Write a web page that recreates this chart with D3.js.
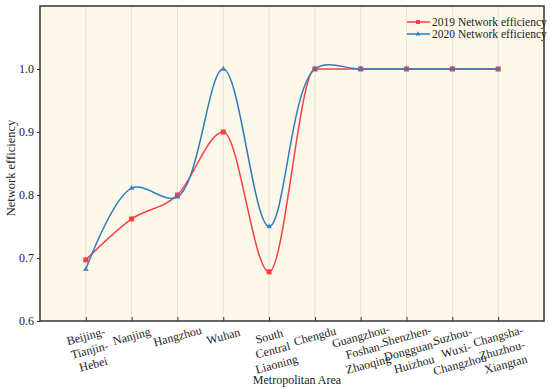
<!DOCTYPE html>
<html><head><meta charset="utf-8">
<script src="https://cdn.jsdelivr.net/npm/d3@7"></script>
<style>body{margin:0;background:#fff}svg{display:block}text{font-family:"Liberation Serif","Times New Roman",serif;fill:#222}</style>
</head><body><svg id="c" width="550" height="389"></svg>
<script>
const categories = [["Beijing-","Tianjin-","Hebei"],["Nanjing"],["Hangzhou"],["Wuhan"],["South","Central","Liaoning"],["Chengdu"],["Guangzhou-","Foshan-","Zhaoqing"],["Shenzhen-","Dongguan-","Huizhou"],["Suzhou-","Wuxi-","Changzhou"],["Changsha-","Zhuzhou-","Xiangtan"]];
const eff2019 = [0.697,0.762,0.800,0.900,0.678,1.0,1.0,1.0,1.0,1.0];
const eff2020 = [0.682,0.811,0.797,1.0,0.750,1.0,1.0,1.0,1.0,1.0];
const yTicks = [0.6,0.7,0.8,0.9,1.0];
const seriesNames = ["2019 Network efficiency","2020 Network efficiency"];

const svg = d3.select("#c");
const L=40,T=6,R=544,B=321;
const x = d3.scaleLinear().domain([0,categories.length+1]).range([L,R]);
const y = d3.scaleLinear().domain([0.6,1.1]).range([B,T]);
svg.append("rect").attr("x",L).attr("y",T).attr("width",R-L).attr("height",B-T).attr("fill","#fdf8ea");
// grid
svg.append("g").selectAll("line").data(categories).join("line")
  .attr("x1",(d,i)=>x(i+1)).attr("x2",(d,i)=>x(i+1)).attr("y1",T).attr("y2",B)
  .attr("stroke","#e2e0da").attr("stroke-width",1);
// axes
const xa = svg.append("g").attr("transform",`translate(0,${B})`)
  .call(d3.axisBottom(x).tickValues(d3.range(1,categories.length+1)).tickSize(-4).tickFormat(""));
xa.select(".domain").remove();
xa.selectAll("line").attr("stroke","#333");
const ya = svg.append("g").attr("transform",`translate(${L},0)`)
  .call(d3.axisLeft(y).tickValues(yTicks).tickSize(3).tickPadding(3).tickFormat(d3.format(".1f")));
ya.select(".domain").remove();
ya.selectAll("line").attr("stroke","#333");
ya.selectAll("text").style("font-family","Liberation Serif").style("font-size","12px").attr("fill","#222");
svg.append("rect").attr("x",L).attr("y",T).attr("width",R-L).attr("height",B-T).attr("fill","none").attr("stroke","#333").attr("stroke-width",1.5);
// x labels
const lab = svg.append("g");
categories.forEach((lines,i)=>{
  const g = lab.append("g").attr("transform",`translate(${x(i+1)},${B+15}) rotate(-15)`);
  lines.forEach((t,j)=>{
    g.append("text").attr("x",0).attr("y",j*14.5).attr("text-anchor","middle").attr("dy","0.35em")
      .style("font-size","12px").text(t);
  });
});
svg.append("text").attr("x",(L+R)/2+5).attr("y",384).attr("text-anchor","middle").style("font-size","12px").text("Metropolitan Area");
svg.append("text").attr("transform",`translate(15,168) rotate(-90)`).attr("text-anchor","middle").style("font-size","12.5px").text("Network efficiency");
// lines
const red="#ff3f3f", blue="#2f7bbf";
const l19 = d3.line().x((d,i)=>x(i+1)).y(d=>y(d)).curve(d3.curveMonotoneX);
const l20 = d3.line().x((d,i)=>x(i+1)).y(d=>y(d)).curve(d3.curveCatmullRom.alpha(0.5));
svg.append("path").attr("d",l19(eff2019)).attr("fill","none").attr("stroke",red).attr("stroke-width",1.5);
svg.append("path").attr("d",l20(eff2020)).attr("fill","none").attr("stroke",blue).attr("stroke-width",1.5);
svg.append("g").selectAll("rect").data(eff2019).join("rect")
  .attr("x",(d,i)=>x(i+1)-2.5).attr("y",d=>y(d)-2.5).attr("width",5).attr("height",5).attr("fill",red);
const tri = d3.symbol().type(d3.symbolTriangle).size(14);
svg.append("g").selectAll("path").data(eff2020).join("path")
  .attr("transform",(d,i)=>`translate(${x(i+1)},${y(d)})`).attr("d",tri()).attr("fill",blue).attr("opacity",0.85);
// legend
const lg = svg.append("g");
[[red,"rect"],[blue,"tri"]].forEach((s,i)=>{
  const yy = 22+i*12;
  lg.append("line").attr("x1",407).attr("x2",430).attr("y1",yy).attr("y2",yy).attr("stroke",s[0]).attr("stroke-width",1.5);
  if(s[1]==="rect") lg.append("rect").attr("x",416).attr("y",yy-2).attr("width",4).attr("height",4).attr("fill",s[0]);
  else lg.append("path").attr("transform",`translate(418,${yy})`).attr("d",d3.symbol().type(d3.symbolTriangle).size(10)()).attr("fill",s[0]);
  lg.append("text").attr("x",432).attr("y",yy).attr("dy","0.35em").style("font-size","11.5px").text(seriesNames[i]);
});
</script></body></html>
